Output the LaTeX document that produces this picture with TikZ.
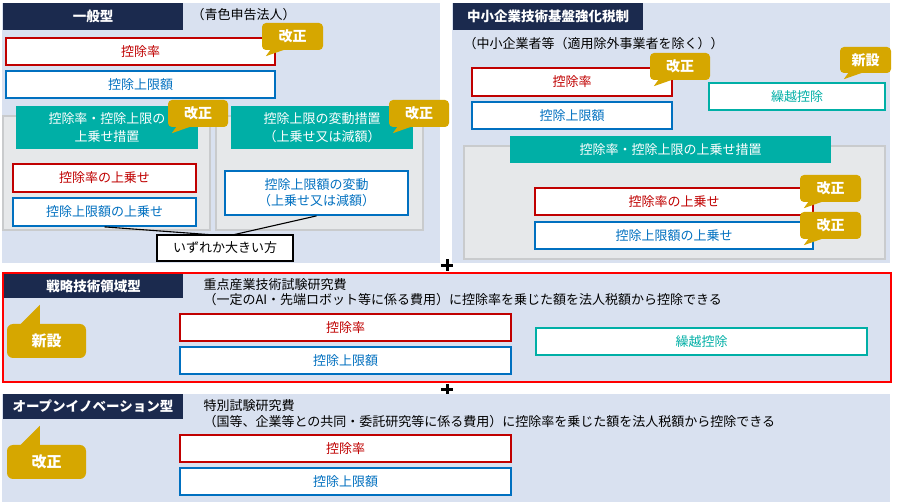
\documentclass[tikz,border=0pt]{standalone}
\usepackage{fontspec}
\setmainfont{Noto Sans CJK JP}
\usetikzlibrary{calc}
\definecolor{navy}{HTML}{1B2A4E}
\definecolor{panelbg}{HTML}{D9E1F0}
\definecolor{graybg}{HTML}{E6E8EA}
\definecolor{grayline}{HTML}{C9CBCD}
\definecolor{tealc}{HTML}{00AFA6}
\definecolor{goldc}{HTML}{D6A700}
\definecolor{redc}{HTML}{C00000}
\definecolor{bluec}{HTML}{0070C0}
\definecolor{brightred}{HTML}{FF0000}
\newcommand\bx[7]{\node[#1, minimum width={#5-#3}, minimum height={#6-#4}] (#2) at ({(#3+#5)/2},{(#4+#6)/2}) {#7};}
\begin{document}
\begin{tikzpicture}[x=1pt,y=-1pt,
  txt/.style={font=\fontsize{13}{15}\selectfont},
  panel/.style={fill=panelbg, draw=none, inner sep=0},
  graybox/.style={fill=graybg, draw=grayline, line width=1.2pt, inner sep=0},
  titlebox/.style={fill=navy, text=white, inner sep=0, font=\bfseries\fontsize{13.5}{15}\selectfont},
  tealhead/.style={fill=tealc, text=white, inner sep=0, align=center, font=\fontsize{13}{18}\selectfont},
  redbox/.style={fill=white, draw=redc, line width=1.8pt, text=redc, inner sep=0, align=center, font=\fontsize{13}{15}\selectfont},
  bluebox/.style={fill=white, draw=bluec, line width=1.8pt, text=bluec, inner sep=0, align=center, font=\fontsize{13}{16}\selectfont},
  tealbox/.style={fill=white, draw=tealc, line width=1.8pt, text=tealc, inner sep=0, align=center, font=\fontsize{13}{15}\selectfont},
  blackbox/.style={fill=white, draw=black, line width=1.2pt, text=black, inner sep=0, font=\fontsize{13}{15}\selectfont},
  callout/.style={fill=goldc, text=white, rounded corners=4pt, inner sep=0, font=\bfseries\fontsize{14}{15}\selectfont},
  bigcallout/.style={fill=goldc, text=white, rounded corners=6pt, inner sep=0, font=\bfseries\fontsize{15}{16}\selectfont},
  connector/.style={draw=black, line width=1.1pt},
  plussign/.style={line width=3pt, draw=black}
]
\useasboundingbox (0,0) rectangle (900,502);
\fill[white] (0,0) rectangle (900,502);

% ---------- panel 1 : 一般型
\bx{panel}{p1}{2}{3}{440}{263}{}
\bx{titlebox}{t1}{3}{3}{183}{30}{一般型}
\node[txt, anchor=west] (s1) at (188,15) {（青色申告法人）};
\bx{redbox}{p1rate}{6}{38}{275}{65}{控除率}
\bx{bluebox}{p1lim}{6}{71}{275}{98}{控除上限額}
\bx{graybox}{g1}{3}{116}{210}{230}{}
\bx{graybox}{g2}{216}{116}{423}{230}{}
\bx{tealhead}{h1}{16}{106}{198}{149}{控除率・控除上限の\\上乗せ措置}
\bx{tealhead}{h2}{231}{106}{413}{149}{控除上限の変動措置\\（上乗せ又は減額）}
\bx{redbox}{g1rate}{13}{164}{196}{192}{控除率の上乗せ}
\bx{bluebox}{g1lim}{13}{198}{196}{226}{控除上限額の上乗せ}
\bx{bluebox}{g2lim}{225}{171}{408}{215}{控除上限額の変動\\（上乗せ又は減額）}
\coordinate (joint) at (228,236);
\draw[connector] (g1lim.south) -- (joint);
\draw[connector] (g2lim.south) -- (joint);
\bx{blackbox}{big}{157}{235}{293}{261}{いずれか大きい方}

% ---------- panel 2 : 中小企業技術基盤強化税制
\bx{panel}{p2}{452}{3}{890}{263}{}
\bx{titlebox}{t2}{453}{3}{643}{30}{中小企業技術基盤強化税制}
\node[txt, anchor=west] (s2) at (460,44) {（中小企業者等（適用除外事業者を除く））};
\bx{redbox}{p2rate}{472}{68}{672}{96}{控除率}
\bx{bluebox}{p2lim}{472}{102}{672}{129}{控除上限額}
\bx{tealbox}{p2carry}{709}{83}{885}{110}{繰越控除}
\bx{graybox}{g3}{464}{146}{885}{259}{}
\bx{tealhead}{h3}{510}{136}{831}{163}{控除率・控除上限の上乗せ措置}
\bx{redbox}{g3rate}{535}{188}{813}{215}{控除率の上乗せ}
\bx{bluebox}{g3lim}{535}{222}{813}{249}{控除上限額の上乗せ}

% ---------- plus signs
\draw[plussign] (441,265.5) -- (453,265.5) (447,259.5) -- (447,271.5);
\draw[plussign] (441,390) -- (453,390) (447,384) -- (447,396);

% ---------- panel 3 : 戦略技術領域型
\bx{panel}{p3}{3}{273}{891}{382}{}
\draw[brightred, line width=2pt] (p3.north west) rectangle (p3.south east);
\bx{titlebox}{t3}{4}{274}{183}{298}{戦略技術領域型}
\node[txt, anchor=west, align=left, font=\fontsize{13}{15}\selectfont] (d3) at (200,292.5) {重点産業技術試験研究費\\（一定のAI・先端ロボット等に係る費用）に控除率を乗じた額を法人税額から控除できる};
\bx{redbox}{p3rate}{180}{314}{511}{341}{控除率}
\bx{bluebox}{p3lim}{180}{347}{511}{374}{控除上限額}
\bx{tealbox}{p3carry}{536}{328}{867}{355}{繰越控除}

% ---------- panel 4 : オープンイノベーション型
\bx{panel}{p4}{2}{394}{890}{502}{}
\bx{titlebox}{t4}{3}{394}{183}{419}{オープンイノベーション型}
\node[txt, anchor=west, align=left, font=\fontsize{13}{16}\selectfont] (d4) at (200,414) {特別試験研究費\\（国等、企業等との共同・委託研究等に係る費用）に控除率を乗じた額を法人税額から控除できる};
\bx{redbox}{p4rate}{180}{435}{511}{462}{控除率}
\bx{bluebox}{p4lim}{180}{468}{511}{495}{控除上限額}

% ---------- callouts (tail at lower left)
\foreach \n/\xa/\ya/\xb/\yb/\t in {c1/262/23/323/50/改正, c2/168/100/228/127/改正, c3/389/100/449/127/改正, c4/650/53/710/80/改正, c5/840/47/891/73/新設, c6/800/175/861/202/改正, c7/800/212/861/239/改正}{
  \bx{callout}{\n}{\xa}{\ya}{\xb}{\yb}{\t}
  \fill[goldc] ($(\n.south west)+(4,6)$) -- ($(\n.south west)+(9,-1)$) -- ($(\n.south west)+(24,-1)$) -- cycle;
}
% ---------- big callouts (tail at upper left)
\foreach \n/\xa/\ya/\xb/\yb/\t in {c8/7/324/86/358/新設, c9/7/445/86/479/改正}{
  \bx{bigcallout}{\n}{\xa}{\ya}{\xb}{\yb}{\t}
  \fill[goldc] ($(\n.north west)+(13,1)$) -- ($(\n.north west)+(33,-19)$) -- ($(\n.north west)+(33,1)$) -- cycle;
}
\end{tikzpicture}
\end{document}
